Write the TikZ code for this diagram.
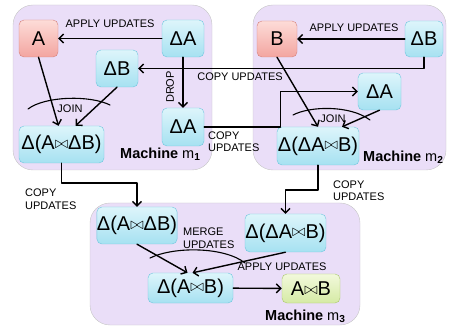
\documentclass[tikz,border=0pt]{standalone}
\usepackage{fontspec}
\setmainfont{Liberation Sans}
\usepackage{graphicx}
\usetikzlibrary{arrows.meta}
\definecolor{lavender}{HTML}{EADEF8}
\definecolor{cyantop}{HTML}{DDF5FB}
\definecolor{cyanbot}{HTML}{A6E1F1}
\definecolor{cyanline}{HTML}{6EC6DE}
\definecolor{redtop}{HTML}{FDDCD8}
\definecolor{redbot}{HTML}{F3A5A0}
\definecolor{redline}{HTML}{D5807A}
\definecolor{greentop}{HTML}{F2F9DC}
\definecolor{greenbot}{HTML}{D5EAA4}
\definecolor{greenline}{HTML}{AAC86C}
\newcommand{\jn}{\raisebox{0.12ex}{\scalebox{0.8}{$\bowtie$}}}

\begin{document}
\begin{tikzpicture}[x=1pt, y=-1pt, line cap=round, line join=round,
    arr/.style={-{Straight Barb[length=4.5pt,width=9pt]}, line width=1.4pt},
    machine/.style={draw=gray!45, fill=lavender, rounded corners=20pt},
    box/.style={rounded corners=5pt, inner sep=0pt, font=\fontsize{20}{21}\selectfont},
    delta/.style={box, draw=cyanline, top color=cyantop, bottom color=cyanbot},
    table/.style={box, draw=redline, top color=redtop, bottom color=redbot},
    result/.style={box, draw=greenline, top color=greentop, bottom color=greenbot},
    lbl/.style={inner sep=0pt, align=left, font=\fontsize{11}{12.5}\selectfont},
    mlbl/.style={inner sep=0pt, anchor=west, font=\fontsize{14.5}{16}\selectfont}]

    \useasboundingbox (0,0) rectangle (450,331);

    %========================
    % machine backgrounds
    %========================
    \draw[machine] (13,5) rectangle (212,170);
    \draw[machine] (253,5) rectangle (446,170);
    \draw[machine] (90,203) rectangle (360,325);

    %========================
    % Machine m1
    %========================
    \node[table, minimum width=39pt, minimum height=37pt] (A) at (38.5,38.5) {A};
    \node[delta, minimum width=42pt, minimum height=37pt] (dA1) at (183,38.5) {ΔA};
    \node[delta, minimum width=42pt, minimum height=37pt] (dB1) at (117,68.5) {ΔB};
    \node[delta, minimum width=42pt, minimum height=38pt] (dA2) at (183,127) {ΔA};
    \node[delta, minimum width=85pt, minimum height=37pt] (j1) at (61.5,144.5) {Δ(A\jn ΔB)};
    \node[mlbl] (m1) at (120,154) {\textbf{Machine} m\textsubscript{\bfseries 1}};

    \draw[arr] (dA1) -- (A);
    \node[lbl] (lapply1) at (110,24) {APPLY UPDATES};
    \draw[arr] (dA1) -- (dA2);
    \node[lbl, rotate=90] (ldrop) at (170,87) {DROP};
    \draw[arr] (A.south) -- ([xshift=-3pt]j1.north);
    \draw[arr] (dB1.south) -- ([xshift=14pt]j1.north);
    % join arc
    \draw[line width=1.1pt] (28,109) .. controls (45,96) and (90,95) .. (110,105);
    \node[lbl] (ljoin1) at (70,109) {JOIN};

    %========================
    % Machine m2
    %========================
    \node[table, minimum width=40pt, minimum height=36pt] (B) at (277,39) {B};
    \node[delta, minimum width=38pt, minimum height=36pt] (dB2) at (424,39) {ΔB};
    \node[delta, minimum width=43pt, minimum height=37pt] (dA3) at (379.5,91.5) {ΔA};
    \node[delta, minimum width=82pt, minimum height=38pt] (j2) at (318,146) {Δ(ΔA\jn B)};
    \node[mlbl] (m2) at (363,157) {\textbf{Machine} m\textsubscript{\bfseries 2}};

    \draw[arr] (dB2) -- (B);
    \node[lbl] (lapply2) at (354,28) {APPLY UPDATES};
    \draw[arr] (B.south) -- (j2.north);
    \draw[arr] (dA3.south) -- ([xshift=24pt]j2.north);
    % join arc
    \draw[line width=1.1pt] (293,115) .. controls (310,106) and (350,105) .. (370,120);
    \node[lbl] (ljoin2) at (333,119) {JOIN};

    %========================
    % copies between m1 and m2
    %========================
    \draw[arr] (dB2.south) |- (dB1.east);
    \node[lbl] (lcopy1) at (240,77) {COPY UPDATES};
    \draw[arr] (dA2.east) -- ++(76,0) |- (dA3.west);
    \node[lbl, anchor=west] (lcopy2) at (208,141.5) {COPY\\UPDATES};

    %========================
    % Machine m3
    %========================
    \node[delta, minimum width=80pt, minimum height=37pt] (jA) at (137,225.5) {Δ(A\jn ΔB)};
    \node[delta, minimum width=81pt, minimum height=38pt] (jB) at (285.5,233) {Δ(ΔA\jn B)};
    \node[delta, minimum width=85pt, minimum height=30pt] (d) at (190.5,288) {Δ(A\jn B)};
    \node[result, minimum width=58pt, minimum height=29pt] (AB) at (311,288.5) {A\jn B};
    \node[mlbl] (m3) at (265,316) {\textbf{Machine} m\textsubscript{\bfseries 3}};

    \draw[arr] (j1.south) -- ++(0,20) -| (jA.north);
    \node[lbl, anchor=west] (lcopy3) at (25,199) {COPY\\UPDATES};
    \draw[arr] (j2.south) -- ++(0,25) -| (jB.north);
    \node[lbl, anchor=west] (lcopy4) at (333,190.5) {COPY\\UPDATES};

    \draw[arr] (jA.south) -- ([xshift=-3pt]d.north);
    \draw[arr] (jB.south) -- ([xshift=2pt]d.north);
    % merge arc
    \draw[line width=1.1pt] (150,258) .. controls (175,246) and (225,247) .. (245,263);
    \node[lbl, anchor=west] (lmerge) at (183,238) {MERGE\\UPDATES};
    \node[lbl] (lapply3) at (282,267) {APPLY UPDATES};
    \draw[arr] (d) -- (AB);

\end{tikzpicture}
\end{document}
